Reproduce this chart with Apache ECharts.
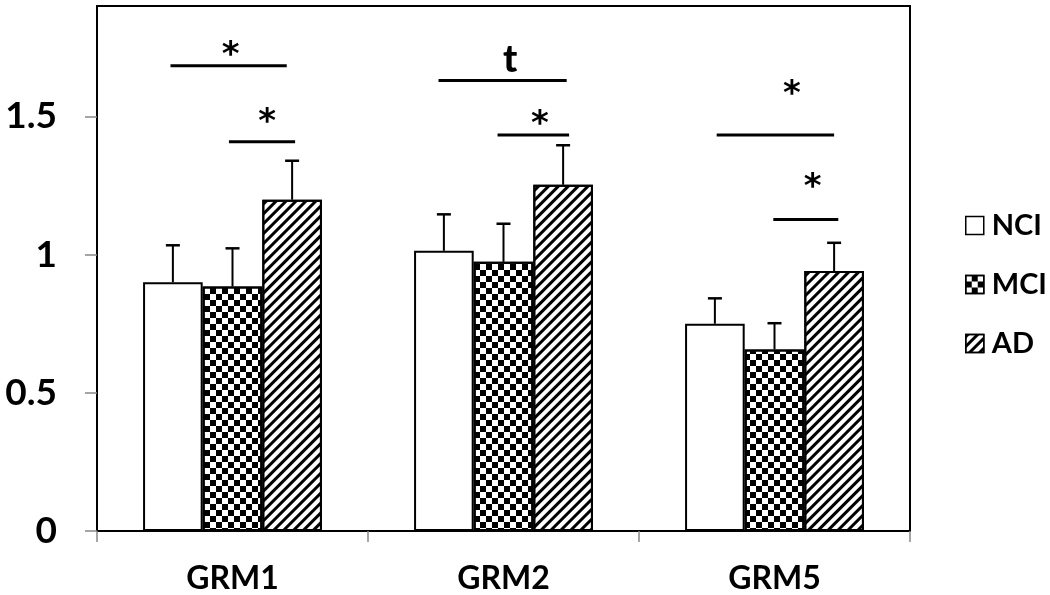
<!DOCTYPE html>
<html>
<head>
<meta charset="utf-8">
<script src="https://cdn.jsdelivr.net/npm/echarts@6/dist/echarts.min.js"></script>
<style>
html,body{margin:0;padding:0;background:#fff;}
#chart{width:1050px;height:595px;}
</style>
</head>
<body>
<div id="chart"></div>
<script>
// ---- data ----
const categories = ['GRM1', 'GRM2', 'GRM5'];
const seriesNames = ['NCI', 'MCI', 'AD'];
const nciValues = [0.90, 1.014, 0.750];
const mciValues = [0.885, 0.974, 0.657];
const adValues = [1.199, 1.253, 0.941];
const nciErrors = [0.134, 0.132, 0.092];
const mciErrors = [0.138, 0.138, 0.095];
const adErrors = [0.141, 0.143, 0.102];
const yTickValues = [0, 0.5, 1, 1.5];

// significance brackets (category, start/end in bar widths from category centre, height, label)
const sigCategory = [0, 0, 1, 1, 2, 2];
const sigStart = [-1.04, -0.06, -1.09, -0.10, -0.97, -0.02];
const sigEnd = [0.91, 1.05, 1.06, 1.10, 1.00, 1.07];
const sigHeight = [1.684, 1.409, 1.630, 1.433, 1.433, 1.127];
const sigLabelX = [-0.03, 0.58, 0.11, 0.61, 0.29, 0.64];
const sigLabelY = [1.747, 1.506, 1.705, 1.498, 1.608, 1.271];
const sigLabels = ['*', '*', 't', '*', '*', '*'];

const FONT = 'Lato, "Open Sans", sans-serif';
const STAR_FONT = '"DejaVu Sans", sans-serif';
const BAR_FRAC = 0.22; // bar width as fraction of band

const chart = echarts.init(document.getElementById('chart'), null, {renderer: 'canvas'});

const valueSets = [nciValues, mciValues, adValues];
const errorSets = [nciErrors, mciErrors, adErrors];
const errData = [];
valueSets.forEach((vals, g) => {
  vals.forEach((v, c) => errData.push([c, g, v, errorSets[g][c]]));
});
const sigData = sigCategory.map((c, i) => [c, sigStart[i], sigEnd[i], sigHeight[i], sigLabelX[i], sigLabelY[i]]);

const decals = [
  null,
  {symbol: 'rect', symbolSize: 1, color: '#000', dashArrayX: [[5.5, 5.5], [0, 5.5, 5.5, 0]], dashArrayY: [5.5, 0]},
  {symbol: 'rect', symbolSize: 1, color: '#000', dashArrayX: [1, 0], dashArrayY: [2.4, 4], rotation: -Math.PI / 4}
];

const barSeries = seriesNames.map((name, g) => ({
  name: name,
  type: 'bar',
  data: valueSets[g],
  barGap: '0%',
  barCategoryGap: '34%',
  itemStyle: {color: '#fff', borderColor: '#000', borderWidth: 2, decal: decals[g] || undefined},
  emphasis: {disabled: true},
  z: 2
}));

const option = {
  animation: false,
  backgroundColor: '#fff',
  grid: {left: 97, right: 140, top: 6, bottom: 63, show: true, borderColor: '#000', borderWidth: 2, backgroundColor: 'transparent'},
  legend: {
    orient: 'vertical',
    left: 960,
    top: 206,
    itemWidth: 18,
    itemHeight: 18,
    itemGap: 30,
    icon: 'rect',
    data: seriesNames,
    itemStyle: {borderColor: '#000', borderWidth: 1.5},
    textStyle: {fontFamily: FONT, fontWeight: 'bold', fontSize: 29, color: '#000', padding: [0, 0, 0, 3]}
  },
  xAxis: {
    type: 'category',
    data: categories,
    axisLine: {show: true, lineStyle: {color: '#000', width: 2}},
    axisTick: {show: true, length: 11, lineStyle: {color: '#888', width: 1.5}},
    axisLabel: {fontFamily: FONT, fontWeight: 'bold', fontSize: 32, color: '#000', margin: 32}
  },
  yAxis: {
    type: 'value',
    min: 0,
    max: 1.9,
    interval: 0.5,
    axisLine: {show: true, lineStyle: {color: '#000', width: 2}},
    axisTick: {show: true, length: 12, lineStyle: {color: '#888', width: 1.5}},
    splitLine: {show: false},
    axisLabel: {
      fontFamily: FONT, fontWeight: 'bold', fontSize: 37, color: '#000', margin: 40,
      showMaxLabel: false,
      formatter: v => (yTickValues.indexOf(v) >= 0 ? String(v) : '')
    }
  },
  series: barSeries.concat([
    {
      name: 'errors',
      type: 'custom',
      data: errData,
      encode: {x: 0, y: 2},
      z: 5,
      silent: true,
      renderItem: function (params, api) {
        const c = api.value(0), g = api.value(1), v = api.value(2), e = api.value(3);
        const bw = api.size([1, 0])[0] * BAR_FRAC;
        const p0 = api.coord([c, v]);
        const p1 = api.coord([c, v + e]);
        const x = p0[0] + (g - 1) * bw;
        return {
          type: 'group',
          children: [
            {type: 'line', shape: {x1: x, y1: p0[1], x2: x, y2: p1[1]}, style: {stroke: '#000', lineWidth: 2}},
            {type: 'line', shape: {x1: x - 7, y1: p1[1], x2: x + 7, y2: p1[1]}, style: {stroke: '#000', lineWidth: 2.5}}
          ]
        };
      }
    },
    {
      name: 'significance',
      type: 'custom',
      data: sigData,
      encode: {x: 0, y: 3},
      z: 6,
      silent: true,
      clip: false,
      renderItem: function (params, api) {
        const c = api.value(0);
        const bw = api.size([1, 0])[0] * BAR_FRAC;
        const p = api.coord([c, api.value(3)]);
        const lp = api.coord([c, api.value(5)]);
        const label = sigLabels[params.dataIndex];
        const isStar = label === '*';
        return {
          type: 'group',
          children: [
            {type: 'line', shape: {x1: p[0] + api.value(1) * bw, y1: p[1], x2: p[0] + api.value(2) * bw, y2: p[1]}, style: {stroke: '#000', lineWidth: 3}},
            {type: 'text', x: p[0] + api.value(4) * bw, y: lp[1] + (isStar ? 8 : 0),
             style: {text: label, fill: '#000', font: isStar ? ('bold 34px ' + STAR_FONT) : ('900 38px ' + FONT), align: 'center', verticalAlign: 'middle'}}
          ]
        };
      }
    }
  ])
};

chart.setOption(option);
</script>
</body>
</html>
